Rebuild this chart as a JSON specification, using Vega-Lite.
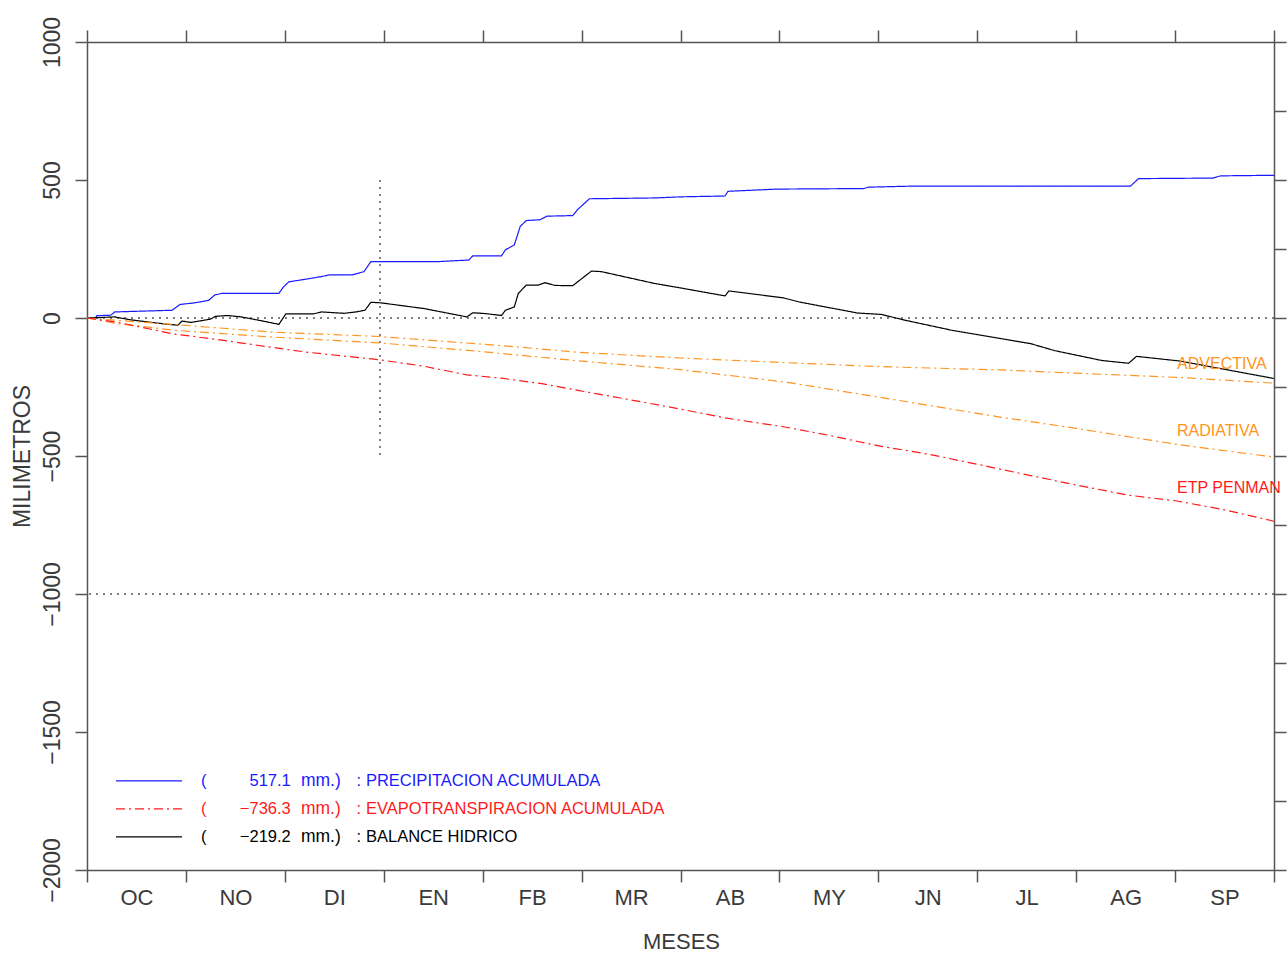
{
  "$schema": "https://vega.github.io/schema/vega-lite/v6.json",
  "width": 1187,
  "height": 828,
  "autosize": {"type": "none"},
  "padding": {"left": 87, "top": 42, "right": 13, "bottom": 83},
  "background": "white",
  "config": {
    "view": {"stroke": null},
    "font": "Liberation Sans",
    "axis": {
      "domainColor": "#555555", "domainWidth": 1.5,
      "tickColor": "#555555", "tickWidth": 1.5, "tickSize": 12,
      "grid": false,
      "labelFont": "Liberation Sans", "labelColor": "#3a3a3a",
      "titleFont": "Liberation Sans", "titleColor": "#3a3a3a", "titleFontWeight": "normal", "titleFontSize": 23,
      "labelOverlap": false, "labelFlush": false, "labelBound": false
    }
  },
  "datasets": {
    "lineas": [
      {"serie": "PRECIPITACION", "mes": 0, "mm": 0},
      {"serie": "PRECIPITACION", "mes": 0.085, "mm": 0},
      {"serie": "PRECIPITACION", "mes": 0.1, "mm": 8.5},
      {"serie": "PRECIPITACION", "mes": 0.24, "mm": 10},
      {"serie": "PRECIPITACION", "mes": 0.28, "mm": 22},
      {"serie": "PRECIPITACION", "mes": 0.86, "mm": 28},
      {"serie": "PRECIPITACION", "mes": 0.94, "mm": 49},
      {"serie": "PRECIPITACION", "mes": 1.09, "mm": 55},
      {"serie": "PRECIPITACION", "mes": 1.23, "mm": 64},
      {"serie": "PRECIPITACION", "mes": 1.29, "mm": 83},
      {"serie": "PRECIPITACION", "mes": 1.36, "mm": 89},
      {"serie": "PRECIPITACION", "mes": 1.94, "mm": 89},
      {"serie": "PRECIPITACION", "mes": 1.98, "mm": 110},
      {"serie": "PRECIPITACION", "mes": 2.04, "mm": 131},
      {"serie": "PRECIPITACION", "mes": 2.2, "mm": 140},
      {"serie": "PRECIPITACION", "mes": 2.37, "mm": 150},
      {"serie": "PRECIPITACION", "mes": 2.45, "mm": 156},
      {"serie": "PRECIPITACION", "mes": 2.68, "mm": 156},
      {"serie": "PRECIPITACION", "mes": 2.8, "mm": 168},
      {"serie": "PRECIPITACION", "mes": 2.87, "mm": 204},
      {"serie": "PRECIPITACION", "mes": 3.53, "mm": 204},
      {"serie": "PRECIPITACION", "mes": 3.86, "mm": 210},
      {"serie": "PRECIPITACION", "mes": 3.9, "mm": 225},
      {"serie": "PRECIPITACION", "mes": 4.19, "mm": 225},
      {"serie": "PRECIPITACION", "mes": 4.23, "mm": 247},
      {"serie": "PRECIPITACION", "mes": 4.32, "mm": 265},
      {"serie": "PRECIPITACION", "mes": 4.38, "mm": 332},
      {"serie": "PRECIPITACION", "mes": 4.44, "mm": 353},
      {"serie": "PRECIPITACION", "mes": 4.58, "mm": 356},
      {"serie": "PRECIPITACION", "mes": 4.65, "mm": 369},
      {"serie": "PRECIPITACION", "mes": 4.91, "mm": 371},
      {"serie": "PRECIPITACION", "mes": 4.96, "mm": 393},
      {"serie": "PRECIPITACION", "mes": 5.08, "mm": 432},
      {"serie": "PRECIPITACION", "mes": 5.74, "mm": 435},
      {"serie": "PRECIPITACION", "mes": 6.0, "mm": 439},
      {"serie": "PRECIPITACION", "mes": 6.45, "mm": 442},
      {"serie": "PRECIPITACION", "mes": 6.48, "mm": 459},
      {"serie": "PRECIPITACION", "mes": 6.97, "mm": 467},
      {"serie": "PRECIPITACION", "mes": 7.85, "mm": 469},
      {"serie": "PRECIPITACION", "mes": 7.9, "mm": 474},
      {"serie": "PRECIPITACION", "mes": 8.36, "mm": 478},
      {"serie": "PRECIPITACION", "mes": 10.55, "mm": 478},
      {"serie": "PRECIPITACION", "mes": 10.63, "mm": 505},
      {"serie": "PRECIPITACION", "mes": 11.38, "mm": 507},
      {"serie": "PRECIPITACION", "mes": 11.46, "mm": 515},
      {"serie": "PRECIPITACION", "mes": 12, "mm": 517.1},

      {"serie": "BALANCE", "mes": 0, "mm": 0},
      {"serie": "BALANCE", "mes": 0.085, "mm": 1},
      {"serie": "BALANCE", "mes": 0.28, "mm": 4},
      {"serie": "BALANCE", "mes": 0.43, "mm": -6},
      {"serie": "BALANCE", "mes": 0.63, "mm": -15},
      {"serie": "BALANCE", "mes": 0.82, "mm": -23},
      {"serie": "BALANCE", "mes": 0.92, "mm": -26},
      {"serie": "BALANCE", "mes": 0.96, "mm": -11},
      {"serie": "BALANCE", "mes": 1.05, "mm": -16},
      {"serie": "BALANCE", "mes": 1.17, "mm": -9},
      {"serie": "BALANCE", "mes": 1.25, "mm": -4},
      {"serie": "BALANCE", "mes": 1.3, "mm": 6},
      {"serie": "BALANCE", "mes": 1.42, "mm": 9},
      {"serie": "BALANCE", "mes": 1.56, "mm": 4},
      {"serie": "BALANCE", "mes": 1.75, "mm": -9},
      {"serie": "BALANCE", "mes": 1.94, "mm": -23},
      {"serie": "BALANCE", "mes": 2.01, "mm": 15},
      {"serie": "BALANCE", "mes": 2.18, "mm": 15},
      {"serie": "BALANCE", "mes": 2.29, "mm": 15},
      {"serie": "BALANCE", "mes": 2.37, "mm": 22},
      {"serie": "BALANCE", "mes": 2.6, "mm": 17},
      {"serie": "BALANCE", "mes": 2.72, "mm": 22},
      {"serie": "BALANCE", "mes": 2.81, "mm": 28},
      {"serie": "BALANCE", "mes": 2.87, "mm": 57},
      {"serie": "BALANCE", "mes": 2.97, "mm": 55},
      {"serie": "BALANCE", "mes": 3.41, "mm": 34},
      {"serie": "BALANCE", "mes": 3.84, "mm": 4},
      {"serie": "BALANCE", "mes": 3.9, "mm": 19},
      {"serie": "BALANCE", "mes": 4.03, "mm": 16},
      {"serie": "BALANCE", "mes": 4.19, "mm": 9},
      {"serie": "BALANCE", "mes": 4.23, "mm": 28},
      {"serie": "BALANCE", "mes": 4.32, "mm": 40},
      {"serie": "BALANCE", "mes": 4.36, "mm": 89},
      {"serie": "BALANCE", "mes": 4.44, "mm": 119},
      {"serie": "BALANCE", "mes": 4.56, "mm": 119},
      {"serie": "BALANCE", "mes": 4.63, "mm": 128},
      {"serie": "BALANCE", "mes": 4.73, "mm": 118},
      {"serie": "BALANCE", "mes": 4.91, "mm": 117},
      {"serie": "BALANCE", "mes": 4.96, "mm": 131},
      {"serie": "BALANCE", "mes": 5.1, "mm": 170},
      {"serie": "BALANCE", "mes": 5.2, "mm": 168},
      {"serie": "BALANCE", "mes": 5.74, "mm": 125},
      {"serie": "BALANCE", "mes": 6.0, "mm": 109},
      {"serie": "BALANCE", "mes": 6.45, "mm": 80},
      {"serie": "BALANCE", "mes": 6.49, "mm": 98},
      {"serie": "BALANCE", "mes": 7.04, "mm": 73},
      {"serie": "BALANCE", "mes": 7.2, "mm": 58},
      {"serie": "BALANCE", "mes": 7.79, "mm": 18},
      {"serie": "BALANCE", "mes": 8.03, "mm": 13},
      {"serie": "BALANCE", "mes": 8.27, "mm": -8},
      {"serie": "BALANCE", "mes": 8.75, "mm": -45},
      {"serie": "BALANCE", "mes": 9.54, "mm": -93},
      {"serie": "BALANCE", "mes": 9.78, "mm": -118},
      {"serie": "BALANCE", "mes": 10.26, "mm": -154},
      {"serie": "BALANCE", "mes": 10.53, "mm": -164},
      {"serie": "BALANCE", "mes": 10.61, "mm": -139},
      {"serie": "BALANCE", "mes": 11.05, "mm": -156},
      {"serie": "BALANCE", "mes": 12, "mm": -219.2},

      {"serie": "ADVECTIVA", "mes": 0, "mm": 0},
      {"serie": "ADVECTIVA", "mes": 0.32, "mm": -9},
      {"serie": "ADVECTIVA", "mes": 0.9, "mm": -24},
      {"serie": "ADVECTIVA", "mes": 1.87, "mm": -51},
      {"serie": "ADVECTIVA", "mes": 2.95, "mm": -67},
      {"serie": "ADVECTIVA", "mes": 4.19, "mm": -100},
      {"serie": "ADVECTIVA", "mes": 4.96, "mm": -124},
      {"serie": "ADVECTIVA", "mes": 6.0, "mm": -145},
      {"serie": "ADVECTIVA", "mes": 7.08, "mm": -162},
      {"serie": "ADVECTIVA", "mes": 8.0, "mm": -176},
      {"serie": "ADVECTIVA", "mes": 9.23, "mm": -188},
      {"serie": "ADVECTIVA", "mes": 10.0, "mm": -200},
      {"serie": "ADVECTIVA", "mes": 11.02, "mm": -215},
      {"serie": "ADVECTIVA", "mes": 12, "mm": -236},

      {"serie": "RADIATIVA", "mes": 0, "mm": 0},
      {"serie": "RADIATIVA", "mes": 0.32, "mm": -21},
      {"serie": "RADIATIVA", "mes": 0.9, "mm": -45},
      {"serie": "RADIATIVA", "mes": 1.87, "mm": -69},
      {"serie": "RADIATIVA", "mes": 2.95, "mm": -90},
      {"serie": "RADIATIVA", "mes": 4.0, "mm": -122},
      {"serie": "RADIATIVA", "mes": 4.96, "mm": -155},
      {"serie": "RADIATIVA", "mes": 6.0, "mm": -187},
      {"serie": "RADIATIVA", "mes": 7.08, "mm": -233},
      {"serie": "RADIATIVA", "mes": 8.11, "mm": -293},
      {"serie": "RADIATIVA", "mes": 9.23, "mm": -359},
      {"serie": "RADIATIVA", "mes": 10.0, "mm": -400},
      {"serie": "RADIATIVA", "mes": 11.02, "mm": -458},
      {"serie": "RADIATIVA", "mes": 12, "mm": -504},

      {"serie": "ETP PENMAN", "mes": 0, "mm": 0},
      {"serie": "ETP PENMAN", "mes": 0.3, "mm": -15},
      {"serie": "ETP PENMAN", "mes": 0.7, "mm": -45},
      {"serie": "ETP PENMAN", "mes": 0.86, "mm": -57},
      {"serie": "ETP PENMAN", "mes": 1.36, "mm": -80},
      {"serie": "ETP PENMAN", "mes": 1.98, "mm": -112},
      {"serie": "ETP PENMAN", "mes": 2.25, "mm": -125},
      {"serie": "ETP PENMAN", "mes": 2.95, "mm": -151},
      {"serie": "ETP PENMAN", "mes": 3.41, "mm": -175},
      {"serie": "ETP PENMAN", "mes": 3.84, "mm": -206},
      {"serie": "ETP PENMAN", "mes": 4.19, "mm": -218},
      {"serie": "ETP PENMAN", "mes": 4.6, "mm": -238},
      {"serie": "ETP PENMAN", "mes": 4.96, "mm": -262},
      {"serie": "ETP PENMAN", "mes": 5.5, "mm": -297},
      {"serie": "ETP PENMAN", "mes": 6.0, "mm": -330},
      {"serie": "ETP PENMAN", "mes": 6.45, "mm": -362},
      {"serie": "ETP PENMAN", "mes": 7.04, "mm": -394},
      {"serie": "ETP PENMAN", "mes": 7.5, "mm": -425},
      {"serie": "ETP PENMAN", "mes": 8.03, "mm": -465},
      {"serie": "ETP PENMAN", "mes": 8.5, "mm": -493},
      {"serie": "ETP PENMAN", "mes": 9.0, "mm": -530},
      {"serie": "ETP PENMAN", "mes": 9.54, "mm": -571},
      {"serie": "ETP PENMAN", "mes": 10.0, "mm": -605},
      {"serie": "ETP PENMAN", "mes": 10.53, "mm": -642},
      {"serie": "ETP PENMAN", "mes": 11.02, "mm": -663},
      {"serie": "ETP PENMAN", "mes": 11.5, "mm": -695},
      {"serie": "ETP PENMAN", "mes": 12, "mm": -736.3}
    ],
    "leyenda": [
      {"serie": "PRECIPITACION", "total": 517.1, "texto": "PRECIPITACION ACUMULADA"},
      {"serie": "ETP PENMAN", "total": -736.3, "texto": "EVAPOTRANSPIRACION ACUMULADA"},
      {"serie": "BALANCE", "total": -219.2, "texto": "BALANCE HIDRICO"}
    ],
    "niveles": [{"nivel": 0}, {"nivel": -1000}]
  },
  "resolve": {"axis": {"x": "independent", "y": "independent"}},
  "layer": [
    {
      "data": {"name": "niveles"},
      "mark": {"type": "rule", "color": "#555555", "strokeWidth": 1.5, "strokeDash": [2, 5]},
      "encoding": {
        "y": {
          "field": "nivel", "type": "quantitative",
          "scale": {"domain": [-2000, 1000], "nice": false, "zero": false},
          "axis": {
            "orient": "right", "values": [1000, 750, 500, 250, 0, -250, -500, -750, -1000, -1250, -1500, -1750, -2000],
            "labels": false, "title": null, "tickSize": 12
          }
        }
      }
    },
    {
      "data": {"values": [{}]},
      "mark": {"type": "rule", "color": "#555555", "strokeWidth": 1.5, "strokeDash": [2, 5]},
      "encoding": {
        "x": {
          "datum": 2.962, "type": "quantitative",
          "scale": {"domain": [0, 12], "nice": false, "zero": false},
          "axis": {"orient": "top", "values": [0,1,2,3,4,5,6,7,8,9,10,11,12], "labels": false, "title": null, "tickSize": 12}
        },
        "y": {"datum": 500, "type": "quantitative", "axis": null},
        "y2": {"datum": -500}
      }
    },
    {
      "data": {"name": "lineas"},
      "mark": {"type": "line", "strokeWidth": 1.2},
      "encoding": {
        "x": {
          "field": "mes", "type": "quantitative",
          "scale": {"domain": [0, 12], "nice": false, "zero": false},
          "axis": {
            "orient": "bottom",
            "values": [0,0.5,1,1.5,2,2.5,3,3.5,4,4.5,5,5.5,6,6.5,7,7.5,8,8.5,9,9.5,10,10.5,11,11.5,12],
            "labelExpr": "datum.value % 1 == 0 ? '' : ['OC','NO','DI','EN','FB','MR','AB','MY','JN','JL','AG','SP'][floor(datum.value)]",
            "tickOpacity": {"condition": {"test": "datum.value % 1 != 0", "value": 0}, "value": 1},
            "tickSize": 12, "labelFontSize": 22, "labelBaseline": "middle", "labelPadding": 15, "labelAngle": 0,
            "title": "MESES", "titleX": 594, "titleY": 71, "titleBaseline": "middle", "titleAlign": "center", "titleFontSize": 22
          }
        },
        "y": {
          "field": "mm", "type": "quantitative",
          "scale": {"domain": [-2000, 1000], "nice": false, "zero": false},
          "axis": {
            "orient": "left", "values": [1000, 500, 0, -500, -1000, -1500, -2000], "format": "d",
            "labelAngle": 270, "labelAlign": "center", "labelBaseline": "middle", "labelPadding": 23, "labelFontSize": 23,
            "tickSize": 12,
            "title": "MILIMETROS", "titleAngle": 270, "titleX": -65, "titleY": 414, "titleAlign": "center", "titleBaseline": "middle"
          }
        },
        "color": {
          "field": "serie", "type": "nominal",
          "scale": {"domain": ["PRECIPITACION", "BALANCE", "ADVECTIVA", "RADIATIVA", "ETP PENMAN"], "range": ["#1a1aff", "#000000", "#ff9420", "#ff9420", "#ff1a1a"]},
          "legend": null
        },
        "strokeDash": {
          "field": "serie", "type": "nominal",
          "scale": {"domain": ["PRECIPITACION", "BALANCE", "ADVECTIVA", "RADIATIVA", "ETP PENMAN"], "range": [[1, 0], [1, 0], [9, 4, 2, 4], [9, 4, 2, 4], [9, 4, 2, 4]]},
          "legend": null
        }
      }
    },
    {
      "data": {"name": "lineas"},
      "transform": [{"filter": "datum.mes == 11.02"}],
      "mark": {"type": "text", "align": "left", "baseline": "middle", "dy": -13, "fontSize": 16, "font": "Liberation Sans"},
      "encoding": {
        "x": {"field": "mes", "type": "quantitative", "axis": null},
        "y": {"field": "mm", "type": "quantitative", "axis": null},
        "text": {"field": "serie"},
        "color": {"field": "serie", "type": "nominal", "legend": null}
      }
    },
    {
      "data": {"name": "leyenda"},
      "encoding": {
        "y": {"datum": -1677, "type": "quantitative", "axis": null},
        "yOffset": {"field": "serie", "type": "nominal", "scale": {"type": "point", "domain": ["PRECIPITACION", "ETP PENMAN", "BALANCE"], "range": [0, 56], "padding": 0}},
        "color": {"field": "serie", "type": "nominal", "legend": null}
      },
      "layer": [
        {
          "mark": {"type": "rule", "strokeWidth": 1.2},
          "encoding": {
            "x": {"datum": 0.293, "type": "quantitative", "axis": null},
            "x2": {"datum": 0.96},
            "strokeDash": {"field": "serie", "type": "nominal", "legend": null}
          }
        },
        {
          "mark": {"type": "text", "align": "left", "baseline": "middle", "fontSize": 16.5, "font": "Liberation Sans", "text": "("},
          "encoding": {"x": {"datum": 1.152, "type": "quantitative", "axis": null}}
        },
        {
          "mark": {"type": "text", "align": "right", "baseline": "middle", "fontSize": 16.5, "font": "Liberation Sans"},
          "encoding": {
            "x": {"datum": 2.06, "type": "quantitative", "axis": null},
            "text": {"field": "total", "type": "quantitative", "format": ".1f"}
          }
        },
        {
          "mark": {"type": "text", "align": "left", "baseline": "middle", "fontSize": 17.5, "font": "Liberation Sans", "text": "mm.)"},
          "encoding": {"x": {"datum": 2.163, "type": "quantitative", "axis": null}}
        },
        {
          "mark": {"type": "text", "align": "left", "baseline": "middle", "fontSize": 16.5, "font": "Liberation Sans", "text": ":"},
          "encoding": {"x": {"datum": 2.725, "type": "quantitative", "axis": null}}
        },
        {
          "mark": {"type": "text", "align": "left", "baseline": "middle", "fontSize": 16.5, "font": "Liberation Sans"},
          "encoding": {
            "x": {"datum": 2.82, "type": "quantitative", "axis": null},
            "text": {"field": "texto"}
          }
        }
      ]
    }
  ]
}
